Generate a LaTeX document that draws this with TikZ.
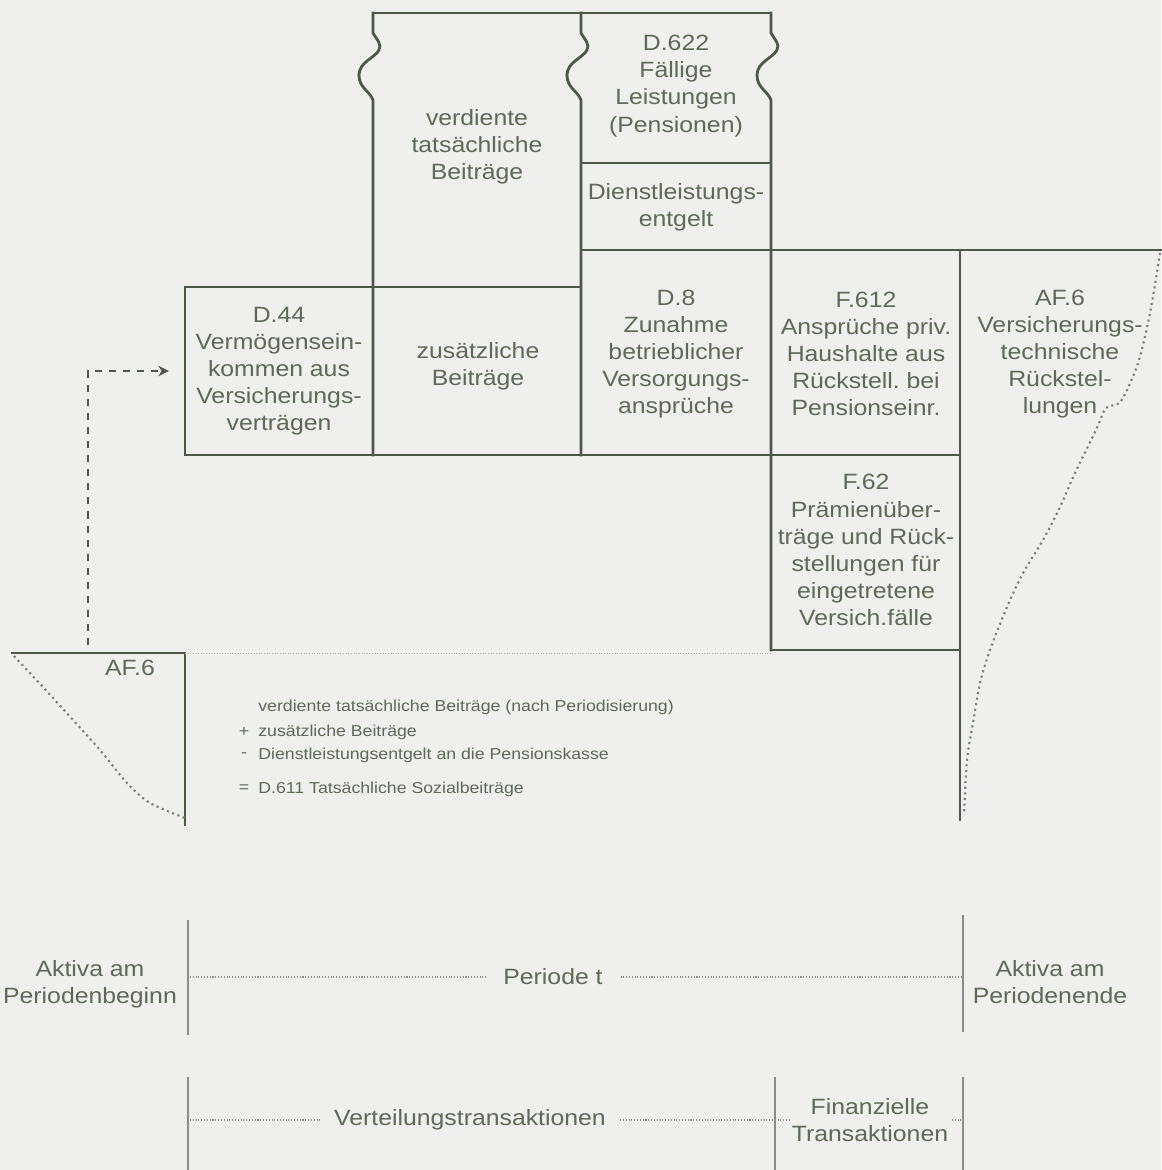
\documentclass[tikz,border=0pt]{standalone}
\usepackage{fontspec}
\setmainfont{Liberation Sans}[FakeStretch=1.12]
\usetikzlibrary{positioning,arrows.meta}
\frenchspacing

\definecolor{linecol}{HTML}{4D5848}
\definecolor{txtcol}{HTML}{5E6A57}
\definecolor{papercol}{HTML}{EFEFED}

\tikzset{
  box/.style={draw=linecol, line width=1.6pt, line cap=rect},
  lbl/.style={text=txtcol, align=center, font=\fontsize{12.6}{15.4}\selectfont, inner sep=0pt},
  note/.style={text=txtcol, anchor=west, font=\fontsize{9}{11}\selectfont, inner sep=0pt},
  guide/.style={draw=black!45, line width=0.6pt},
  dots/.style={draw=black!45, densely dotted, line width=0.6pt},
  rim/.style={draw=linecol!75, dotted, line width=1.2pt},
  flow/.style={draw=linecol, line width=1.3pt, dash pattern=on 4pt off 4pt, -{Stealth[length=6pt,width=6pt]}},
}

\begin{document}
\begin{tikzpicture}[x=0.02cm, y=-0.02cm]
% paper
\useasboundingbox (0,0) rectangle (1161,1170);
\fill[papercol] (0,0) rectangle (1161,1170);

% Columns with break marks
\foreach \cx/\cy in {373/455, 581/455, 771/650}
  \draw[box] (\cx,13) -- (\cx,33) .. controls (\cx+4,40) and (\cx+9,44) .. (\cx+6,50)
    .. controls (\cx+2,58) and (\cx-14,62) .. (\cx-14,75)
    .. controls (\cx-14,88) and (\cx-4,90) .. (\cx,100) -- (\cx,\cy);
\draw[box] (373,13) -- (771,13);
\draw[box] (581,163) -- (771,163);
\draw[box] (581,250) -- (1161,250);
\draw[box] (185,287) -- (581,287);
\draw[box] (185,287) -- (185,455) -- (960,455);
\draw[box] (960,250) -- (960,820);
\draw[box] (771,650) -- (960,650);
% AF.6 at period begin
\draw[box] (12,653) -- (185,653) -- (185,825);
\draw[black!30, densely dotted, line width=0.5pt] (185,653) -- (771,653);
\draw[rim] plot[smooth] coordinates {(14,656) (43,687) (73,720) (100,750) (127,783) (150,803) (185,818)};
\draw[rim] plot[smooth] coordinates {(1160,253) (1150,313) (1138,363) (1121,401) (1106,408) (1096,430) (1075,473) (1060,507) (1043,540) (1023,573) (1007,607) (990,650) (980,683) (973,723) (967,760) (964,815)};

% Labels
\node[lbl] (verd) at (477,147) {verdiente\\tatsächliche\\Beiträge};
\node[lbl] (d622) at (676,86) {D.622\\Fällige\\Leistungen\\(Pensionen)};
\node[lbl] (dienst) at (676,207) {Dienstleistungs-\\entgelt};
\node[lbl, minimum width=3.76cm, minimum height=3.36cm] (d44) at (279,371) {D.44\\Vermögensein-\\kommen aus\\Versicherungs-\\verträgen};
\node[lbl] (zus) at (478,366) {zusätzliche\\Beiträge};
\node[lbl] (d8) at (676,354) {D.8\\Zunahme\\betrieblicher\\Versorgungs-\\ansprüche};
\node[lbl] (f612) at (866,354) {F.612\\Ansprüche priv.\\Haushalte aus\\Rückstell. bei\\Pensionseinr.};
\node[lbl] (af6e) at (1060,354) {AF.6\\Versicherungs-\\technische\\Rückstel-\\lungen};
\node[lbl] (f62) at (866,550) {F.62\\Prämienüber-\\träge und Rück-\\stellungen für\\eingetretene\\Versich.fälle};
\node[lbl] (af6b) at (130,668) {AF.6};

% Flow into D.44
\coordinate (src) at (88,645);
\draw[flow, shorten >=9pt] (src) |- (d44.west);

% Calculation
\node[note] (l1) at (258,707) {verdiente tatsächliche Beiträge (nach Periodisierung)};
\node[note] (l2) at (258,732) {zusätzliche Beiträge};
\node[note] (l3) at (258,755) {Dienstleistungsentgelt an die Pensionskasse};
\node[note] (l4) at (258,789) {D.611 Tatsächliche Sozialbeiträge};
\node[note, anchor=center] (s2) at (244,732) {+};
\node[note, anchor=center] (s3) at (244,755) {-};
\node[note, anchor=center] (s4) at (244,789) {=};

% Period axis
\draw[guide] (188,920) -- (188,1035);
\draw[guide] (963,915) -- (963,1032);
\node[lbl] (beg) at (90,984) {Aktiva am\\Periodenbeginn};
\node[lbl] (end) at (1050,982) {Aktiva am\\Periodenende};
\node[lbl, inner xsep=10pt] (per) at (553,977) {Periode t};
\coordinate (p0) at (190,977);
\coordinate (p1) at (961,977);
\draw[dots] (p0) -- (per.west);
\draw[dots] (per.east) -- (p1);

% Transaction axis
\draw[guide] (188,1077) -- (188,1170);
\draw[guide] (775,1077) -- (775,1170);
\draw[guide] (963,1077) -- (963,1170);
\node[lbl, inner xsep=8pt] (vert) at (470,1120) {Verteilungstransaktionen};
\node[lbl] (fin) at (870,1120) {Finanzielle\\Transaktionen};
\coordinate (t0) at (190,1120);
\coordinate (t1) at (789,1120);
\coordinate (t2) at (952,1120);
\coordinate (t3) at (962,1120);
\draw[dots] (t0) -- (vert.west);
\draw[dots] (vert.east) -- (t1);
\draw[dots] (t2) -- (t3);
\end{tikzpicture}
\end{document}
